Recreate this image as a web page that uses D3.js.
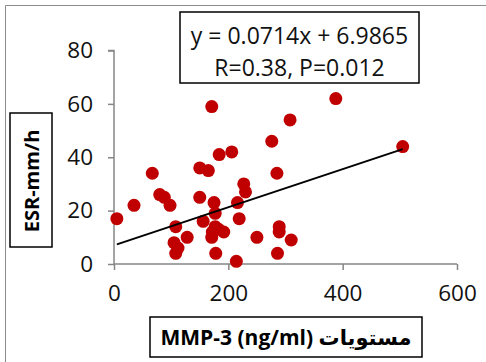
<!DOCTYPE html>
<html>
<head>
<meta charset="utf-8">
<script src="https://cdn.jsdelivr.net/npm/d3@7"></script>
<style>
  html, body { margin: 0; padding: 0; background: #fff; }
  svg { display: block; font-family: "Open Sans", "DejaVu Sans", sans-serif; }
</style>
</head>
<body>
<div id="chart"></div>
<script>
// MMP-3 levels (ng/ml) vs ESR (mm/h)
const mmp3 = [5, 35, 67, 80, 88, 98, 105, 108, 112, 108, 128, 150, 150, 156, 165, 171, 171, 172,
  175, 177, 177, 183, 178, 184, 192, 206, 214, 216, 219, 227, 230, 250, 276, 285, 286, 289, 289,
  308, 310, 388, 505];
const esr = [17, 22, 34, 26, 25, 22, 8, 14, 6, 4, 10, 36, 25, 16, 35, 59, 10, 12,
  23, 19, 14, 13, 4, 41, 12, 42, 1, 23, 17, 30, 27, 10, 46, 34, 4, 14, 12,
  54, 9, 62, 44];
const xTicks = [0, 200, 400, 600];
const yTicks = [0, 20, 40, 60, 80];
const slope = 0.0714, intercept = 6.9865;
const eqLines = ['y = 0.0714x + 6.9865', 'R=0.38, P=0.012'];
const xLabel = 'MMP-3 (ng/ml) مستويات';
const yLabel = 'ESR-mm/h';

const width = 486, height = 362;
const svg = d3.select('#chart').append('svg')
  .attr('width', width).attr('height', height);

// outer chart frame
svg.append('path')
  .attr('d', 'M5.5,362 V5.5 H486')
  .attr('fill', 'none').attr('stroke', '#8c8c8c').attr('stroke-width', 1);

const x = d3.scaleLinear().domain([0, 600]).range([114, 457]);
const y = d3.scaleLinear().domain([0, 80]).range([264, 50.5]);

const gx = svg.append('g').attr('transform', `translate(0,${y(0)})`)
  .call(d3.axisBottom(x).tickValues(xTicks).tickSize(6).tickPadding(15));
const gy = svg.append('g').attr('transform', `translate(${x(0)},0)`)
  .call(d3.axisLeft(y).tickValues(yTicks).tickSize(6).tickPadding(15));
[gx, gy].forEach(g => {
  g.select('.domain').attr('stroke', '#868686').attr('stroke-width', 1.5);
  g.selectAll('.tick line').attr('stroke', '#868686').attr('stroke-width', 1.5);
  g.selectAll('.tick text').attr('font-size', 22.5).attr('fill', '#111')
    .attr('font-family', '"Open Sans", sans-serif');
});
gy.select('.domain').attr('d', `M-6,${y(80)}H0V${y(0)}`);
gx.select('.domain').attr('d', `M0,0H${x(600) - x(0)}`).attr('transform', `translate(${x(0)},0)`);

// points
const pts = mmp3.map((v, i) => [v, esr[i]]);
svg.append('g').selectAll('circle').data(pts).join('circle')
  .attr('cx', d => x(d[0])).attr('cy', d => y(d[1])).attr('r', 6.5)
  .attr('fill', '#c00000');

// linear trendline over data range
const xr = d3.extent(mmp3);
svg.append('line')
  .attr('x1', x(xr[0])).attr('y1', y(slope * xr[0] + intercept))
  .attr('x2', x(xr[1])).attr('y2', y(slope * xr[1] + intercept))
  .attr('stroke', '#000').attr('stroke-width', 2);

// equation box
svg.append('rect').attr('x', 180).attr('y', 12).attr('width', 239).attr('height', 71)
  .attr('fill', '#fff').attr('stroke', '#000').attr('stroke-width', 1.5);
svg.append('g').selectAll('text').data(eqLines).join('text')
  .attr('x', 299.5).attr('y', (d, i) => 44 + i * 32)
  .attr('text-anchor', 'middle').attr('font-size', 23).attr('fill', '#111')
  .text(d => d);

// axis titles
svg.append('rect').attr('x', 150).attr('y', 317).attr('width', 272).attr('height', 40)
  .attr('fill', '#fff').attr('stroke', '#000').attr('stroke-width', 1.5);
svg.append('text').attr('x', 286).attr('y', 345)
  .attr('text-anchor', 'middle').attr('font-size', 21).attr('font-weight', 'bold')
  .attr('direction', 'ltr').text(xLabel);

svg.append('rect').attr('x', 10).attr('y', 113).attr('width', 42).attr('height', 134)
  .attr('fill', '#fff').attr('stroke', '#000').attr('stroke-width', 1.5);
svg.append('text').attr('transform', 'translate(38.5,181) rotate(-90)')
  .attr('text-anchor', 'middle').attr('font-size', 20).attr('font-weight', 'bold')
  .text(yLabel);
</script>
</body>
</html>
